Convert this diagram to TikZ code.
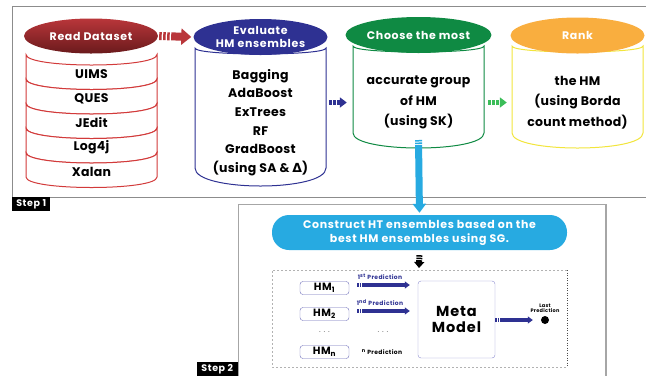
\documentclass[tikz,border=0pt]{standalone}
\usepackage{fontspec}
\setmainfont{Poppins}
\newfontfamily\widefont{Poppins}[LetterSpace=6]
\newfontfamily\bodyfont{Poppins}[LetterSpace=2.5]
\newfontfamily\symfont{DejaVu Sans}
\usetikzlibrary{shapes,arrows.meta,positioning}
\definecolor{readtop}{HTML}{B9363A}
\definecolor{readbot}{HTML}{6A1A1C}
\definecolor{readline}{HTML}{D23A3A}
\definecolor{navy}{HTML}{2E3192}
\definecolor{chgreen}{HTML}{0F8A43}
\definecolor{rankorange}{HTML}{F9AE3F}
\definecolor{rankline}{HTML}{F2E53C}
\definecolor{skyblue}{HTML}{27AAE1}
\definecolor{hmline}{HTML}{6C6CB8}
\definecolor{metaline}{HTML}{8C8CD0}

\begin{document}
\begin{tikzpicture}[x=1pt,y=-1pt,
  frame/.style={draw=black!45,line width=0.8pt},
  steplabel/.style={fill=black,text=white,font=\widefont\bfseries\fontsize{9.5}{10}\selectfont,inner sep=0pt,minimum height=14pt},
  cyltop/.style={ellipse,minimum width=134pt,minimum height=36pt,inner sep=0pt,text=white,align=center,font=\widefont\bfseries\fontsize{11}{14.5}\selectfont},
  cylbody/.style={fill=white,line width=1pt},
  bodytext/.style={align=center,inner sep=0pt,font=\bodyfont\bfseries\fontsize{12.5}{18.6}\selectfont},
  stripe/.style={line width=#1,dash pattern=on 2.5pt off 1.5pt on 2.5pt off 1.5pt on 2.5pt off 1.5pt on 300pt},
  thinstripe/.style={line width=#1,dash pattern=on 1.5pt off 1pt on 1.5pt off 1pt on 300pt},
  hmbox/.style={draw=hmline,rounded corners=3pt,minimum width=49pt,minimum height=13pt,inner sep=0pt,font=\widefont\bfseries\fontsize{10.5}{11}\selectfont},
  predlabel/.style={font=\widefont\bfseries\fontsize{6}{6.5}\selectfont,inner sep=0pt}]

\useasboundingbox (0,0) rectangle (646,376);

% step frames
\draw[frame] (646,6) -- (12,6) -- (12,197) -- (646,197);
\draw[frame,draw=black!35] (238,376) -- (238,204) -- (606,204);
\draw[draw=black!35,line width=1.8pt] (606,204) -- (606,376);
\node[steplabel,minimum width=38pt,anchor=north west] (step1) at (12,197) {Step 1};
\node[steplabel,minimum width=41pt,anchor=south east] (step2) at (238,376) {Step 2};

% read dataset
\foreach \name [count=\i from 0] in {UIMS,QUES,JEdit,Log4j,Xalan}{
  \pgfmathsetmacro\dtop{54.5+24.5*\i}
  \pgfmathsetmacro\dbot{\dtop+24.5}
  \draw[cylbody,draw=readline] (26,\dtop) -- (26,\dbot) .. controls (26,\dbot+14) and (157,\dbot+14) .. (157,\dbot) -- (157,\dtop) .. controls (157,\dtop+14) and (26,\dtop+14) .. cycle;
  \node[bodytext] (ds\i) at (91.5,\dtop+19.5) {\name};
}
\node[cyltop,top color=readtop,bottom color=readbot,minimum height=35pt] (read) at (91,36) {Read Dataset};

% evaluate
\draw[cylbody,draw=navy] (195,48) -- (195,168) .. controls (195,192) and (326,192) .. (326,168) -- (326,48) .. controls (326,56) and (195,56) .. cycle;
\node[cyltop,fill=navy] (eval) at (260.5,37) {Evaluate\\[-2pt]HM ensembles};
\node[bodytext,minimum width=131pt] (evallist) at (260.5,122.5) {Bagging\\AdaBoost\\ExTrees\\RF\\GradBoost\\(using SA \& {\symfont Δ})};

% choose
\draw[cylbody,draw=chgreen] (353,46) -- (353,133) .. controls (353,153) and (484,153) .. (484,133) -- (484,46) .. controls (484,54) and (353,54) .. cycle;
\node[cyltop,fill=chgreen] (choose) at (418.5,35) {Choose the most};
\node[bodytext,minimum width=131pt,font=\bodyfont\bfseries\fontsize{12.5}{20.5}\selectfont] (chooselist) at (418.5,102.5) {accurate group\\of HM\\(using SK)};

% rank
\draw[cylbody,draw=rankline] (512,46) -- (512,133) .. controls (512,153) and (643,153) .. (643,133) -- (643,46) .. controls (643,54) and (512,54) .. cycle;
\node[cyltop,fill=rankorange] (rank) at (577.5,35.5) {Rank};
\node[bodytext,minimum width=131pt,font=\bodyfont\bfseries\fontsize{12.5}{20.5}\selectfont] (ranklist) at (577.5,102.5) {the HM\\(using Borda\\count method)};

\draw[stripe=8pt,readtop,-{Triangle[length=10pt,width=16pt]},shorten <=1pt,shorten >=2pt] (read.east) -- (eval.west);
\draw[stripe=5pt,navy,-{Triangle[length=7pt,width=10pt]},shorten <=3pt,shorten >=6pt] (evallist.east |- chooselist) -- (chooselist.west);
\draw[stripe=5pt,chgreen!70!green!80!white,-{Triangle[length=7pt,width=10pt]},shorten <=4pt,shorten >=5pt] (chooselist.east) -- (ranklist.west);

% step 2
\coordinate (choosebot) at (418.5,140);
\node[draw=none,fill=skyblue,rounded corners=17pt,minimum width=295pt,minimum height=35pt,inner sep=0pt,text=white,align=center,font=\widefont\bfseries\fontsize{11}{14}\selectfont] (construct) at (419.5,232.5) {Construct HT ensembles based on the\\best HM ensembles using SG.};
\draw[thinstripe=7pt,skyblue,-{Triangle[length=9pt,width=13pt]},shorten >=2pt] (choosebot) -- (construct.north);

\draw[dash pattern=on 2pt off 2pt,black!30,line width=0.6pt] (567,270) -- (272,270) -- (272,367) -- (567,367);
\draw[dash pattern=on 1pt off 1.5pt,black!70,line width=0.7pt] (567,270) -- (567,367);
\coordinate (boxtop) at (419,270);
\draw[thinstripe=6pt,black,-{Triangle[length=6pt,width=10pt]},shorten <=5pt,shorten >=2pt] (construct.south) -- (boxtop);

\node[hmbox] (hm1) at (324.5,288) {HM\textsubscript{1}};
\node[hmbox] (hm2) at (324.5,314) {HM\textsubscript{2}};
\node[text=black!60,font=\fontsize{8}{8}\selectfont] (hmdots) at (324.5,332) {. . .};
\node[hmbox] (hmn) at (324.5,352) {HM\textsubscript{n}};

\node[draw=metaline,rounded corners=3pt,minimum width=77pt,minimum height=77pt,inner sep=0pt,align=center,font=\widefont\bfseries\fontsize{14.5}{16}\selectfont] (meta) at (456.5,319.5) {Meta\\Model};

\draw[thinstripe=3.5pt,navy,-{Triangle[length=5pt,width=7pt]},shorten <=8pt,shorten >=8pt] ([yshift=3pt]hm1.east) -- ([yshift=3pt]hm1.east -| meta.west) node[predlabel,pos=0.45,above=3.5pt] {1\textsuperscript{st} Prediction};
\draw[thinstripe=3.5pt,navy,-{Triangle[length=5pt,width=7pt]},shorten <=8pt,shorten >=8pt] ([yshift=3pt]hm2.east) -- ([yshift=3pt]hm2.east -| meta.west) node[predlabel,pos=0.45,above=3.5pt] {1\textsuperscript{nd} Prediction};
\node[text=black!60,font=\fontsize{8}{8}\selectfont] (preddots) at (383,332) {. . .};
\node[predlabel] (predn) at (382,352) {\textsuperscript{n} Prediction};

\node[circle,fill=black,minimum size=8pt,inner sep=0pt] (last) at (545,320) {};
\node[predlabel,align=center,above=3pt of last,font=\widefont\bfseries\fontsize{5}{5.5}\selectfont] (lastlabel) {Last\\Prediction};
\draw[thinstripe=3.5pt,navy,-{Triangle[length=5pt,width=7pt]},shorten >=8pt] (meta.east |- last) -- (last.west);

\end{tikzpicture}
\end{document}
